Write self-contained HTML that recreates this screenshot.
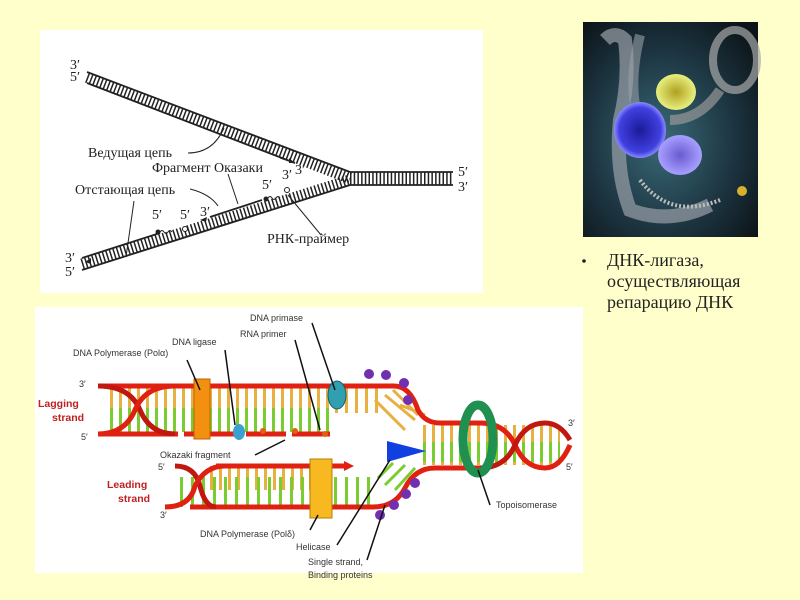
<!DOCTYPE html>
<html><head><meta charset="utf-8"><style>
html,body{margin:0;padding:0;background:#ffffcc;width:800px;height:600px;overflow:hidden}
svg{display:block}
</style></head><body>
<svg width="800" height="600" viewBox="0 0 800 600" xmlns="http://www.w3.org/2000/svg">
<defs>
<radialGradient id="bg" cx="0.45" cy="0.55" r="0.7"><stop offset="0" stop-color="#3a6a78"/><stop offset="0.6" stop-color="#1c3440"/><stop offset="1" stop-color="#0c1418"/></radialGradient>
<radialGradient id="blu" cx="0.5" cy="0.5" r="0.5"><stop offset="0" stop-color="#1a1a9a"/><stop offset="0.8" stop-color="#4040e0"/><stop offset="1" stop-color="#8a8aff"/></radialGradient>
<radialGradient id="yel" cx="0.5" cy="0.5" r="0.5"><stop offset="0" stop-color="#b0a020"/><stop offset="1" stop-color="#e8f080"/></radialGradient>
<radialGradient id="vio" cx="0.5" cy="0.5" r="0.5"><stop offset="0" stop-color="#6a5ad0"/><stop offset="1" stop-color="#a8a0ff"/></radialGradient>
</defs>
<rect x="40" y="30" width="443" height="263" fill="#fff"/>
<g font-family="Liberation Serif, serif" font-size="14" fill="#222">
<line x1="87" y1="77.5" x2="350" y2="178.5" stroke="#222" stroke-width="11" stroke-dasharray="1.5 2.2"/>
<line x1="87" y1="72" x2="350" y2="172" stroke="#222" stroke-width="1.8"/>
<line x1="87" y1="83" x2="295" y2="163" stroke="#222" stroke-width="1.8"/>
<line x1="350" y1="178.5" x2="453" y2="178.5" stroke="#222" stroke-width="12" stroke-dasharray="1.5 2.2"/>
<line x1="350" y1="172" x2="453" y2="172" stroke="#222" stroke-width="1.8"/>
<line x1="350" y1="185" x2="453" y2="185" stroke="#222" stroke-width="1.8"/>
<line x1="82" y1="264" x2="350" y2="180" stroke="#222" stroke-width="11" stroke-dasharray="1.5 2.2"/>
<line x1="82" y1="270" x2="350" y2="185" stroke="#222" stroke-width="1.8"/>
<line x1="82" y1="258" x2="160" y2="233" stroke="#222" stroke-width="1.8"/>
<line x1="210" y1="217" x2="262" y2="200" stroke="#222" stroke-width="1.8"/>
<circle cx="158" cy="232" r="2.5" fill="#222"/><path d="M160 232 q2 -3 4 0 q2 3 4 0 q2 -3 4 0" stroke="#222" fill="none"/><circle cx="185" cy="229" r="2.5" fill="#fff" stroke="#222"/>
<circle cx="266" cy="199" r="2.5" fill="#222"/><path d="M268 198 q2 -3 4 0 q2 3 4 0 q2 -3 4 0" stroke="#222" fill="none"/><circle cx="287" cy="190" r="2.5" fill="#fff" stroke="#222"/>
<path d="M188 153 q25 0 36 -25" stroke="#222" fill="none"/>
<path d="M280 158 l15 5" stroke="#222"/><path d="M295 163 l-6 -5 l0 5z" fill="#222"/>
<path d="M228 174 l10 30" stroke="#222" fill="none"/>
<path d="M190 189 q20 5 28 17" stroke="#222" fill="none"/>
<path d="M207 217 l-7 3 l6 2z" fill="#222"/>
<path d="M134 201 l-8 56" stroke="#222" fill="none"/>
<path d="M85 262 l6 -4 l0 6z" fill="#222"/>
<path d="M288 195 l33 40" stroke="#222" fill="none"/>
<text x="70" y="69">3′</text><text x="70" y="81">5′</text>
<text x="88" y="157">Ведущая цепь</text>
<text x="152" y="172">Фрагмент Оказаки</text>
<text x="295" y="174">3′</text>
<text x="75" y="194">Отстающая цепь</text>
<text x="262" y="189">5′</text><text x="282" y="179">3′</text>
<text x="152" y="219">5′</text><text x="180" y="219">5′</text><text x="200" y="216">3′</text>
<text x="267" y="243">РНК-праймер</text>
<text x="458" y="176">5′</text><text x="458" y="191">3′</text>
<text x="65" y="262">3′</text><text x="65" y="276">5′</text>
</g>
<rect x="583" y="22" width="175" height="215" fill="url(#bg)"/>
<path d="M605 40 q10 -10 20 0 q5 40 -5 80 q-5 50 10 90 q40 15 80 -5" stroke="#9aa0a8" stroke-width="14" fill="none" opacity="0.7"/>
<path d="M640 35 q-10 40 -5 70" stroke="#9aa0a8" stroke-width="10" fill="none" opacity="0.6"/>
<ellipse cx="735" cy="60" rx="22" ry="30" fill="none" stroke="#aaa" stroke-width="8" opacity="0.7"/>
<path d="M720 90 q-20 30 -50 30" stroke="#999" stroke-width="10" fill="none" opacity="0.7"/>
<path d="M640 180 q30 40 80 20" stroke="#bbb" stroke-width="4" fill="none" stroke-dasharray="2 2"/>
<ellipse cx="676" cy="92" rx="20" ry="18" fill="url(#yel)"/>
<ellipse cx="640" cy="130" rx="26" ry="28" fill="url(#blu)"/>
<ellipse cx="680" cy="155" rx="22" ry="20" fill="url(#vio)"/>
<circle cx="742" cy="191" r="5" fill="#d8b030"/>
<g font-family="Liberation Serif, serif" font-size="18" fill="#222">
<circle cx="584" cy="261" r="1.8" fill="#222"/>
<text x="607" y="266">ДНК-лигаза,</text>
<text x="607" y="287">осуществляющая</text>
<text x="607" y="308">репарацию ДНК</text>
</g>
<rect x="35" y="307" width="548" height="266" fill="#fff"/>
<g>
<line x1="110" y1="410" x2="330" y2="410" stroke="#e8b040" stroke-width="44" stroke-dasharray="3 6"/>
<line x1="110" y1="420" x2="330" y2="420" stroke="#7acc30" stroke-width="24" stroke-dasharray="3 6"/>
<line x1="335" y1="400" x2="380" y2="400" stroke="#e8b040" stroke-width="26" stroke-dasharray="3 7"/>
<path d="M375 400 l30 30 M385 395 l30 25 M393 390 l25 25 M400 405 l25 10" stroke="#e8b040" stroke-width="3"/>
<line x1="423" y1="445" x2="560" y2="445" stroke="#e8b040" stroke-width="40" stroke-dasharray="3 6"/>
<line x1="423" y1="452" x2="560" y2="452" stroke="#7acc30" stroke-width="20" stroke-dasharray="3 6"/>
<line x1="210" y1="478" x2="310" y2="478" stroke="#e8b040" stroke-width="24" stroke-dasharray="3 6"/>
<line x1="180" y1="492" x2="370" y2="492" stroke="#7acc30" stroke-width="30" stroke-dasharray="3 8"/>
<path d="M385 485 l20 -20 M395 490 l20 -22 M378 478 l15 -15" stroke="#7acc30" stroke-width="3"/>
<path d="M98 386 L394 386 Q410 386 418 410 Q425 423 440 423 L480 423" stroke="#e02010" stroke-width="5" fill="none"/>
<path d="M98 434 L330 434" stroke="#e02010" stroke-width="5" fill="none" stroke-dasharray="80 6 20 6 30 6 40 6"/>
<path d="M216 466 L344 466" stroke="#e02010" stroke-width="5" fill="none"/>
<path d="M344 461 l10 5 l-10 5z" fill="#e02010"/>
<path d="M190 507 L373 507 Q395 507 405 488 Q415 468 435 468 L480 468" stroke="#e02010" stroke-width="5" fill="none"/>
<path d="M98 386 Q130 386 140 410 Q150 434 175 434" stroke="#c01810" stroke-width="5" fill="none"/>
<path d="M98 434 Q125 434 135 410 Q145 386 175 386" stroke="#e02010" stroke-width="5" fill="none"/>
<path d="M175 466 Q195 466 200 486 Q205 507 216 507" stroke="#c01810" stroke-width="5" fill="none"/>
<path d="M165 507 Q190 507 195 486 Q205 466 225 466" stroke="#e02010" stroke-width="5" fill="none"/>
<path d="M480 423 Q505 423 515 445 Q525 468 545 468 Q560 468 570 445" stroke="#e02010" stroke-width="5" fill="none"/>
<path d="M480 468 Q505 468 515 445 Q525 423 545 423 Q560 423 570 440" stroke="#c01810" stroke-width="5" fill="none"/>
<rect x="194" y="379" width="16" height="60" fill="#f39010" stroke="#c06000"/>
<rect x="310" y="459" width="22" height="59" fill="#f8b820" stroke="#b08000"/>
<ellipse cx="337" cy="395" rx="9" ry="14" fill="#30a0b0" stroke="#106070"/>
<ellipse cx="239" cy="432" rx="6" ry="8" fill="#3aa0d0"/>
<ellipse cx="478" cy="439" rx="15" ry="34" fill="none" stroke="#209050" stroke-width="9"/>
<path d="M387 441 L426 451 L387 462z" fill="#1040e0"/>
<g fill="#7030b0"><circle cx="369" cy="374" r="5"/><circle cx="386" cy="375" r="5"/><circle cx="404" cy="383" r="5"/><circle cx="408" cy="400" r="5"/>
<circle cx="415" cy="483" r="5"/><circle cx="406" cy="494" r="5"/><circle cx="394" cy="505" r="5"/><circle cx="380" cy="515" r="5"/></g>
<circle cx="263" cy="431" r="3" fill="#e06010"/><circle cx="295" cy="431" r="3" fill="#e06010"/><circle cx="325" cy="434" r="3" fill="#e06010"/>
<g stroke="#111" stroke-width="1.5" fill="none">
<path d="M187 360 L200 390"/><path d="M225 350 L235 425"/><path d="M295 340 L320 430"/>
<path d="M312 323 L335 390"/><path d="M255 455 L285 440"/><path d="M310 530 L318 515"/>
<path d="M337 545 L390 460"/><path d="M367 560 L385 505"/><path d="M490 505 L478 470"/>
</g>
</g>
<g font-family="Liberation Sans, sans-serif" font-size="9" fill="#333">
<text x="73" y="356">DNA Polymerase (Polα)</text>
<text x="172" y="345">DNA ligase</text>
<text x="250" y="321">DNA primase</text>
<text x="240" y="337">RNA primer</text>
<text x="160" y="458">Okazaki fragment</text>
<text x="200" y="537">DNA Polymerase (Polδ)</text>
<text x="296" y="550">Helicase</text>
<text x="308" y="565">Single strand,</text>
<text x="308" y="578">Binding proteins</text>
<text x="496" y="508">Topoisomerase</text>
<text x="79" y="387">3′</text><text x="81" y="440">5′</text>
<text x="158" y="470">5′</text><text x="160" y="518">3′</text>
<text x="568" y="426">3′</text><text x="566" y="470">5′</text>
</g>
<g font-family="Liberation Sans, sans-serif" font-size="10.5" font-weight="bold" fill="#c02020">
<text x="38" y="407">Lagging</text><text x="52" y="421">strand</text>
<text x="107" y="488">Leading</text><text x="118" y="502">strand</text>
</g>
</svg>
</body></html>
